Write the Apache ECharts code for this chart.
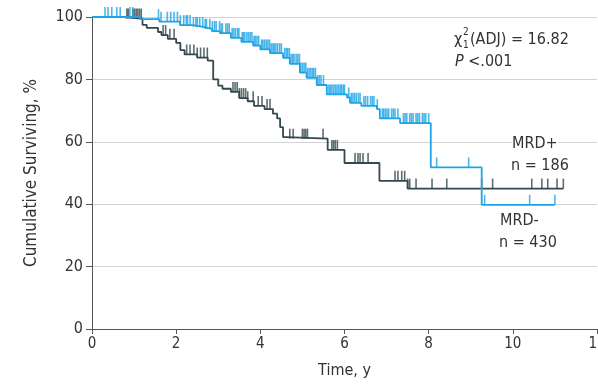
<!DOCTYPE html>
<html>
<head>
<meta charset="utf-8">
<script src="https://cdn.jsdelivr.net/npm/echarts@6/dist/echarts.min.js"></script>
<style>
  html, body { margin: 0; padding: 0; background: #fff; }
  #chart { width: 598px; height: 388px; }
</style>
</head>
<body>
<div id="chart"></div>
<script>
// Kaplan-Meier steps: [time (y), cumulative surviving %]
const mrdNegSteps = [
  [0, 100], [1.14, 99.3], [1.6, 98.5], [2.09, 97.4], [2.4, 96.8], [2.64, 96.2],
  [2.85, 95.5], [3.04, 94.8], [3.3, 93.3], [3.55, 92], [3.83, 90.8], [4.0, 89.6],
  [4.23, 88.4], [4.54, 86.9], [4.7, 85], [4.94, 82.2], [5.1, 80.5], [5.34, 78.2],
  [5.58, 75.2], [6.06, 74.2], [6.13, 72.5], [6.4, 71.5], [6.77, 70.5], [6.84, 67.5],
  [7.32, 66], [8.05, 51.8], [9.26, 39.8], [11.0, 39.8]
];
const mrdPosSteps = [
  [0, 100], [0.74, 99.5], [1.2, 97.5], [1.3, 96.5], [1.57, 95.2], [1.65, 94.2],
  [1.8, 93], [2.0, 91.7], [2.1, 89.4], [2.2, 88], [2.5, 87], [2.75, 86],
  [2.88, 80], [3.0, 78], [3.1, 77], [3.3, 76], [3.5, 74], [3.7, 73],
  [3.85, 71.5], [4.1, 70.5], [4.3, 69], [4.4, 67.5], [4.47, 64.7], [4.54, 61.5],
  [4.63, 61], [5.6, 57.4], [6.0, 53.2], [6.83, 47.5], [7.5, 45], [11.2, 45]
];

// censored observations (time, y)
const mrdNegCensor = [
  0.31, 0.38, 0.47, 0.59, 0.67, 0.9, 0.97, 1.58, 1.64, 1.79, 1.87, 1.95, 2.03, 2.1,
  2.18, 2.24, 2.27, 2.33, 2.41, 2.47, 2.5, 2.56, 2.63, 2.69, 2.72, 2.8, 2.86, 2.91,
  2.95, 3.03, 3.07, 3.1, 3.18, 3.22, 3.26, 3.33, 3.37, 3.41, 3.46, 3.49, 3.57, 3.6,
  3.63, 3.68, 3.72, 3.76, 3.8, 3.85, 3.88, 3.92, 3.96, 4.03, 4.06, 4.1, 4.14, 4.18,
  4.22, 4.26, 4.3, 4.33, 4.37, 4.41, 4.46, 4.5, 4.58, 4.62, 4.65, 4.69, 4.73, 4.77,
  4.8, 4.85, 4.89, 4.93, 4.96, 5.0, 5.04, 5.08, 5.12, 5.16, 5.2, 5.24, 5.27, 5.31,
  5.36, 5.4, 5.44, 5.5, 5.63, 5.66, 5.7, 5.74, 5.78, 5.82, 5.86, 5.9, 5.93, 5.97,
  6.0, 6.1, 6.16, 6.2, 6.24, 6.28, 6.33, 6.37, 6.46, 6.5, 6.55, 6.62, 6.66, 6.7,
  6.78, 6.9, 6.93, 6.97, 7.01, 7.05, 7.12, 7.16, 7.2, 7.27, 7.4, 7.44, 7.48, 7.55,
  7.59, 7.63, 7.7, 7.74, 7.78, 7.85, 7.89, 7.93, 8.0, 8.19, 8.95, 9.33, 10.4, 11.0
];
const mrdPosCensor = [
  0.83, 0.86, 0.97, 1.01, 1.05, 1.09, 1.13, 1.17, 1.69, 1.75, 1.85, 1.95, 2.25, 2.33,
  2.42, 2.5, 2.58, 2.66, 2.74, 3.35, 3.4, 3.45, 3.5, 3.55, 3.6, 3.65, 3.7, 3.83,
  3.95, 4.04, 4.16, 4.23, 4.7, 4.78, 5.0, 5.04, 5.08, 5.12, 5.49, 5.7, 5.74, 5.78,
  5.83, 6.25, 6.32, 6.37, 6.44, 6.56, 7.2, 7.27, 7.36, 7.43, 7.5, 7.55, 7.7, 8.08,
  8.43, 9.26, 9.52, 10.45, 10.69, 10.83, 11.05, 11.2
];

const yTicks = [0, 20, 40, 60, 80, 100];
const xTicks = [0, 2, 4, 6, 8, 10, 12];

const BLUE = '#1ea4e6';
const DARK = '#33494f';
const FONT = "'Liberation Sans Narrow', 'DejaVu Sans Condensed', sans-serif";

// survival value at time t from a step table
function survAt(steps, t) {
  let v = steps[0][1];
  for (const [x, y] of steps) {
    if (x <= t) v = y; else break;
  }
  return v;
}

const chart = echarts.init(document.getElementById('chart'));

const censorSeries = (name, steps, times, color, z) => ({
  name: name + ' censored',
  type: 'scatter',
  data: times.map((t) => [t, survAt(steps, t)]),
  symbol: 'rect',
  symbolSize: [1.6, 10],
  symbolOffset: [0, -5],
  itemStyle: { color: color },
  silent: true,
  z: z,
});

// annotation text helper
const label = (left, top, text, size, extra) => ({
  type: 'text',
  left: left,
  top: top,
  z: 100,
  style: Object.assign({ text: text, font: size + 'px ' + FONT, fill: '#333' }, extra || {}),
});

const option = {
  animation: false,
  grid: { left: 92, right: 1, top: 17, bottom: 59, containLabel: false, outerBoundsMode: 'none' },
  xAxis: {
    type: 'value',
    min: xTicks[0],
    max: xTicks[xTicks.length - 1],
    interval: 2,
    name: 'Time, y',
    nameLocation: 'middle',
    nameGap: 34,
    nameTextStyle: { color: '#333', fontSize: 16, fontFamily: FONT },
    axisLine: { lineStyle: { color: '#555', width: 1 } },
    axisTick: { show: true, length: 5, lineStyle: { color: '#555' } },
    axisLabel: { color: '#333', fontSize: 15, fontFamily: FONT, margin: 8 },
    splitLine: { show: false },
  },
  yAxis: {
    type: 'value',
    min: yTicks[0],
    max: yTicks[yTicks.length - 1],
    interval: 20,
    name: 'Cumulative Surviving, %',
    nameLocation: 'middle',
    nameGap: 52,
    nameRotate: 90,
    nameTextStyle: { color: '#333', fontSize: 17, fontFamily: FONT },
    axisLine: { show: true, lineStyle: { color: '#555', width: 1 } },
    axisTick: { show: true, length: 6, lineStyle: { color: '#555' } },
    axisLabel: { color: '#333', fontSize: 16, fontFamily: FONT, margin: 9 },
    splitLine: { show: true, lineStyle: { color: '#d4d4d4', width: 1 } },
  },
  series: [
    {
      name: 'MRD+',
      type: 'line',
      step: 'end',
      data: mrdPosSteps,
      showSymbol: false,
      lineStyle: { color: DARK, width: 1.8 },
      z: 2,
    },
    censorSeries('MRD+', mrdPosSteps, mrdPosCensor, DARK, 3),
    {
      name: 'MRD-',
      type: 'line',
      step: 'end',
      data: mrdNegSteps,
      showSymbol: false,
      lineStyle: { color: BLUE, width: 1.8 },
      z: 4,
    },
    censorSeries('MRD-', mrdNegSteps, mrdNegCensor, BLUE, 5),
  ],
  graphic: [
    label(454, 32, 'χ', 16),
    label(463, 27, '2', 10),
    label(463, 40, '1', 10),
    label(470, 32, '(ADJ) = 16.82', 16),
    label(455, 54, '{i|P} <.001', 16, {
      rich: { i: { fontStyle: 'italic', fontSize: 16, fontFamily: FONT, fill: '#333' } },
    }),
    label(512, 136, 'MRD+', 16, { backgroundColor: '#fff' }),
    label(511, 158, 'n = 186', 16),
    label(500, 213, 'MRD-', 16),
    label(499, 235, 'n = 430', 16),
  ],
};

chart.setOption(option);
</script>
</body>
</html>
